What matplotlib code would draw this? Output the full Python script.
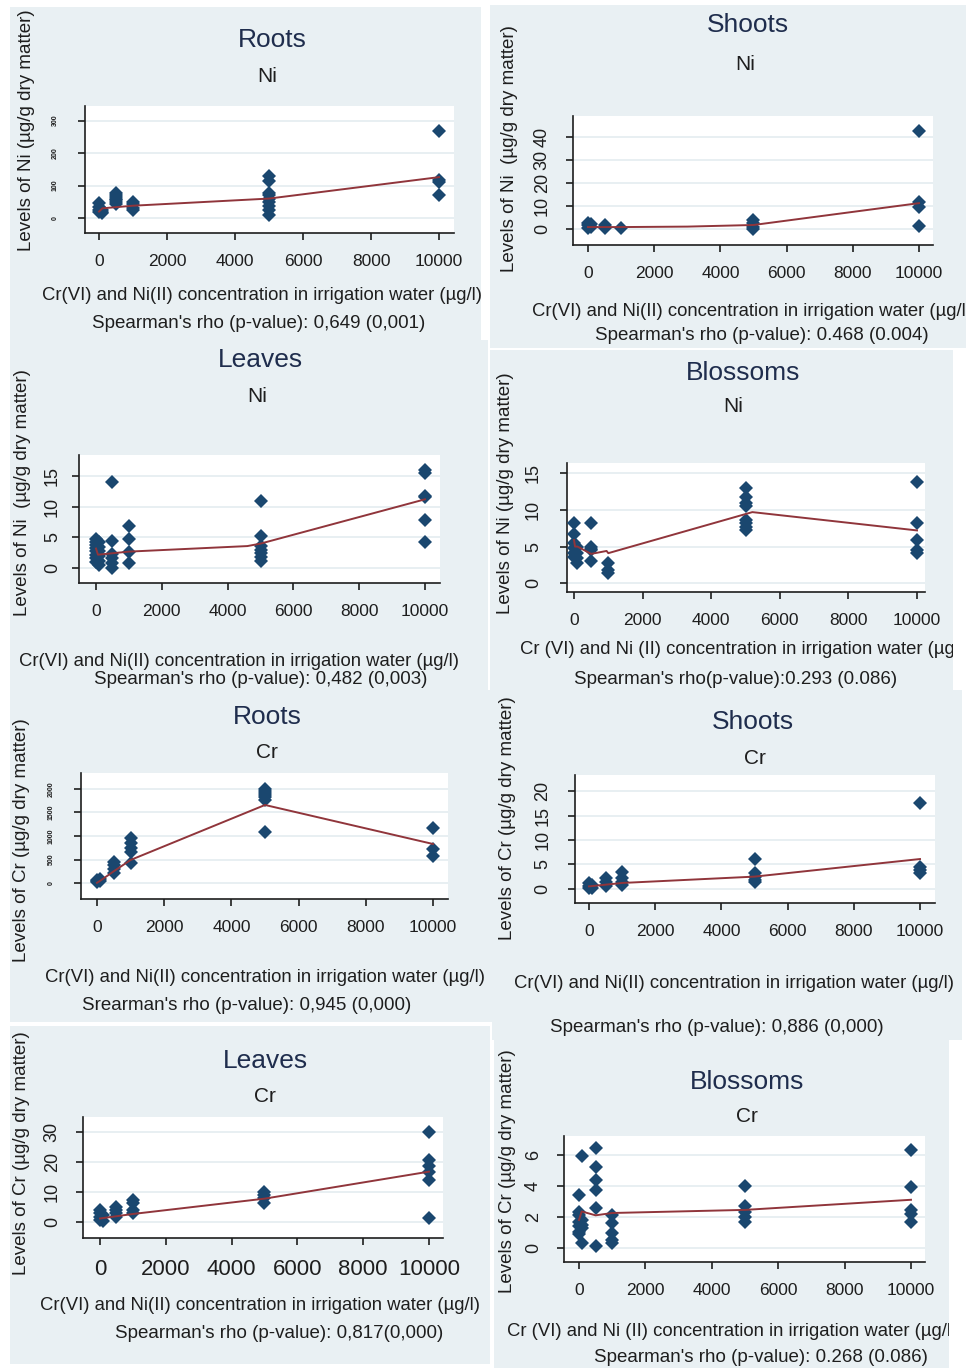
import matplotlib
matplotlib.use("Agg")
import matplotlib.pyplot as plt
from matplotlib.patches import Rectangle

plt.rcParams['font.family'] = ['Liberation Sans', 'DejaVu Sans']

W, H = 968, 1368

# ---- data -----------------------------------------------------------------
x_ticks = [0, 2000, 4000, 6000, 8000, 10000]

# Roots, Ni
roots_ni_x = [0, 0, 0, 0, 100, 100, 100, 500, 500, 500, 500, 500, 500, 500,
              1000, 1000, 1000, 1000] + [5000] * 9 + [10000] * 4
roots_ni_y = [45, 35, 25, 20, 25, 18, 15, 78, 72, 66, 60, 55, 50, 44,
              50, 42, 32, 25, 130, 115, 78, 70, 60, 50, 38, 25, 10,
              268, 118, 110, 72]
roots_ni_fit_x = [0, 100, 1000, 5000, 10000]
roots_ni_fit_y = [20, 30, 38, 60, 126]

# Shoots, Ni
shoots_ni_x = [0, 0, 0, 100, 100, 500, 500, 1000] + [5000] * 4 + [10000] * 4
shoots_ni_y = [0.5, 1.5, 2.5, 1, 2, 0.5, 1.5, 0.5, 4, 2.5, 1, 0,
               42.5, 11.5, 9.5, 1.3]
shoots_ni_fit_x = [0, 100, 500, 1000, 3000, 5000, 10000]
shoots_ni_fit_y = [0.8, 0.8, 0.8, 0.8, 1.0, 1.7, 11.2]

# Leaves, Ni
leaves_ni_x = [0] * 8 + [100] * 6 + [500] * 6 + [1000] * 4 + [5000] * 7 + [10000] * 6
leaves_ni_y = [4.8, 4.3, 3.8, 3.3, 2.8, 2.2, 1.6, 1.0,
               4.2, 3.5, 2.8, 2.0, 1.2, 0.6,
               14, 4.5, 2.3, 1.6, 0.8, 0,
               6.8, 4.8, 2.6, 0.9,
               11, 5.2, 3.6, 3.0, 2.4, 1.8, 1.2,
               16, 15.4, 11.8, 11.5, 7.8, 4.3]
leaves_ni_fit_x = [0, 60, 1000, 4600, 5000, 10000]
leaves_ni_fit_y = [3.2, 2.2, 2.7, 3.6, 4.0, 11.2]

# Blossoms, Ni
blossoms_ni_x = [0] * 6 + [100] * 4 + [500] * 5 + [1000] * 3 + [5000] * 8 + [10000] * 5
blossoms_ni_y = [8.2, 6.7, 5.5, 4.8, 4.1, 3.6,
                 5.0, 4.1, 3.4, 2.7,
                 8.2, 5.0, 4.7, 4.5, 3.0,
                 2.7, 1.8, 1.4,
                 13.0, 11.8, 10.9, 10.6, 8.6, 8.2, 7.7, 7.2,
                 13.8, 8.2, 5.9, 4.5, 4.1]
blossoms_ni_fit_x = [0, 30, 100, 500, 950, 1000, 5200, 10000]
blossoms_ni_fit_y = [5.9, 5.0, 5.0, 4.0, 4.4, 4.1, 9.7, 7.2]

# Roots, Cr
roots_cr_x = [0, 0, 0, 100, 100] + [500] * 4 + [1000] * 5 + [5000] * 7 + [10000] * 3
roots_cr_y = [60, 40, 25, 80, 45, 450, 380, 300, 220,
              950, 850, 750, 650, 420,
              2000, 1960, 1920, 1870, 1820, 1760, 1090,
              1170, 720, 580]
roots_cr_fit_x = [0, 100, 500, 1000, 5000, 10000]
roots_cr_fit_y = [5, 50, 250, 490, 1660, 830]

# Shoots, Cr
shoots_cr_x = [0, 0, 0, 100, 100, 500, 500, 500] + [1000] * 4 + [5000] * 5 + [10000] * 4
shoots_cr_y = [1.1, 0.5, 0.1, 0.8, 0.1, 2.2, 1.5, 0.5,
               3.5, 2.2, 1.5, 0.8,
               6.1, 3.2, 2.5, 1.8, 1.3,
               17.6, 4.5, 3.9, 3.2]
shoots_cr_fit_x = [0, 1000, 5000, 10000]
shoots_cr_fit_y = [0.5, 1.2, 2.5, 6.1]

# Leaves, Cr
leaves_cr_x = [0] * 4 + [100] * 2 + [500] * 4 + [1000] * 4 + [5000] * 4 + [10000] * 6
leaves_cr_y = [4.0, 2.9, 1.8, 0.7, 2.4, 0.5,
               5.1, 4.0, 2.9, 1.8,
               7.3, 6.2, 4.0, 3.1,
               10.1, 9.0, 7.9, 6.2,
               30.1, 20.7, 18.7, 16.8, 14.0, 1.4]
leaves_cr_fit_x = [0, 1000, 5000, 10000]
leaves_cr_fit_y = [1.2, 2.7, 7.8, 16.8]

# Blossoms, Cr
blossoms_cr_x = [0] * 7 + [100] * 5 + [500] * 6 + [1000] * 5 + [5000] * 5 + [10000] * 5
blossoms_cr_y = [3.4, 2.3, 2.1, 1.7, 1.4, 1.05, 0.9,
                 5.9, 1.8, 1.5, 1.3, 0.3,
                 6.4, 5.2, 4.4, 3.7, 2.6, 0.1,
                 2.1, 1.6, 0.95, 0.5, 0.3,
                 4.0, 2.7, 2.3, 2.0, 1.7,
                 6.3, 3.9, 2.45, 2.2, 1.7]
blossoms_cr_fit_x = [0, 80, 500, 1000, 5000, 10000]
blossoms_cr_fit_y = [1.8, 2.35, 2.1, 2.25, 2.45, 3.1]

titles = ['Roots', 'Shoots', 'Leaves', 'Blossoms', 'Roots', 'Shoots', 'Leaves', 'Blossoms']
metals = ['Ni', 'Ni', 'Ni', 'Ni', 'Cr', 'Cr', 'Cr', 'Cr']
y_labels = ['Levels of Ni (µg/g dry matter)', 'Levels of Ni  (µg/g dry matter)',
            'Levels of Ni  (µg/g dry matter)', 'Levels of Ni (µg/g dry matter)',
            'Levels of Cr (µg/g dry matter)', 'Levels of Cr (µg/g dry matter)',
            'Levels of Cr (µg/g dry matter)', 'Levels of Cr (µg/g dry matter)']
x_labels = ['Cr(VI) and Ni(II) concentration in irrigation water (µg/l)',
            'Cr(VI) and Ni(II) concentration in irrigation water (µg/l)',
            'Cr(VI) and Ni(II) concentration in irrigation water (µg/l)',
            'Cr (VI) and Ni (II) concentration in irrigation water (µg/l)',
            'Cr(VI) and Ni(II) concentration in irrigation water (µg/l)',
            'Cr(VI) and Ni(II) concentration in irrigation water (µg/l)',
            'Cr(VI) and Ni(II) concentration in irrigation water (µg/l)',
            'Cr (VI) and Ni (II) concentration in irrigation water (µg/l)']
stats = ["Spearman's rho (p-value): 0,649 (0,001)",
         "Spearman's rho (p-value): 0.468 (0.004)",
         "Spearman's rho (p-value): 0,482 (0,003)",
         "Spearman's rho(p-value):0.293 (0.086)",
         "Srearman's rho (p-value): 0,945 (0,000)",
         "Spearman's rho (p-value): 0,886 (0,000)",
         "Spearman's rho (p-value): 0,817(0,000)",
         "Spearman's rho (p-value): 0.268 (0.086)"]
y_ticks = [[0, 100, 200, 300], [0, 10, 20, 30, 40], [0, 5, 10, 15], [0, 5, 10, 15],
           [0, 500, 1000, 1500, 2000], [0, 5, 10, 15, 20], [0, 10, 20, 30], [0, 2, 4, 6]]

series = [(roots_ni_x, roots_ni_y, roots_ni_fit_x, roots_ni_fit_y),
          (shoots_ni_x, shoots_ni_y, shoots_ni_fit_x, shoots_ni_fit_y),
          (leaves_ni_x, leaves_ni_y, leaves_ni_fit_x, leaves_ni_fit_y),
          (blossoms_ni_x, blossoms_ni_y, blossoms_ni_fit_x, blossoms_ni_fit_y),
          (roots_cr_x, roots_cr_y, roots_cr_fit_x, roots_cr_fit_y),
          (shoots_cr_x, shoots_cr_y, shoots_cr_fit_x, shoots_cr_fit_y),
          (leaves_cr_x, leaves_cr_y, leaves_cr_fit_x, leaves_cr_fit_y),
          (blossoms_cr_x, blossoms_cr_y, blossoms_cr_fit_x, blossoms_cr_fit_y)]

# ---- layout (pixels, origin top-left) -------------------------------------
# panel rect, axes box, xlim, ylim
layout = [
    dict(rect=(10, 7, 481, 340), box=(85, 106, 454, 233), xlim=(-412, 10441), ylim=(-46, 345),
         title=(272, 40), sub=(267, 76), ylab=(27, 130), xlab=(42, 296), stat=(259, 323),
         ypad=14, tiny=True, xsize=12.5),
    dict(rect=(490, 5, 966, 348), box=(573, 116, 933, 245), xlim=(-453, 10423), ylim=(-7, 49.1),
         title=(748, 25), sub=(745, 64), ylab=(510, 149), xlab=(532, 312), stat=(762, 335),
         ypad=11, tiny=False, xsize=12.5),
    dict(rect=(10, 340, 488, 690), box=(79, 455, 440, 583), xlim=(-517, 10456), ylim=(-2.4, 18.4),
         title=(260, 360), sub=(257, 397), ylab=(23, 493), xlab=(19, 662), stat=(261, 680),
         ypad=8, tiny=False, xsize=12.5),
    dict(rect=(490, 350, 953, 690), box=(567, 463, 925, 592), xlim=(-204, 10233), ylim=(-1.2, 16.4),
         title=(743, 373), sub=(733, 407), ylab=(505, 493), xlab=(520, 650), stat=(736, 680),
         ypad=13, tiny=False, xsize=12.5),
    dict(rect=(10, 690, 492, 1022), box=(81, 773, 448, 899), xlim=(-476, 10446), ylim=(-340, 2340),
         title=(267, 717), sub=(267, 753), ylab=(22, 840), xlab=(45, 977), stat=(247, 1005),
         ypad=14, tiny=True, xsize=12.5),
    dict(rect=(492, 690, 962, 1040), box=(575, 775, 935, 903), xlim=(-423, 10453), ylim=(-2.9, 23.3),
         title=(753, 722), sub=(755, 758), ylab=(507, 818), xlab=(514, 983), stat=(717, 1027),
         ypad=12, tiny=False, xsize=12.5),
    dict(rect=(10, 1026, 490, 1364), box=(83, 1117, 443, 1238), xlim=(-517, 10426), ylim=(-5.3, 35),
         title=(265, 1061), sub=(265, 1097), ylab=(22, 1153), xlab=(40, 1305), stat=(279, 1333),
         ypad=11, tiny=False, xsize=16),
    dict(rect=(494, 1040, 949, 1368), box=(564, 1136, 925, 1262), xlim=(-452, 10422), ylim=(-0.9, 7.2),
         title=(747, 1082), sub=(747, 1117), ylab=(508, 1171), xlab=(507, 1332), stat=(761, 1357),
         ypad=11, tiny=False, xsize=12.5),
]

BG = '#e9f0f3'
GRID = '#e6eef1'
NAVY = '#1a476f'
RED = '#90353b'
INK = '#1e1e1e'


def fx(px):
    return px / W


def fy(py):
    return 1 - py / H


fig = plt.figure(figsize=(W / 100, H / 100), dpi=100)
fig.patch.set_facecolor('white')

for i, lay in enumerate(layout):
    x0, y0, x1, y1 = lay['rect']
    panel = Rectangle((fx(x0), fy(y1)), (x1 - x0) / W, (y1 - y0) / H,
                      transform=fig.transFigure, facecolor=BG, edgecolor='none', zorder=0)
    fig.add_artist(panel)

    bx0, by0, bx1, by1 = lay['box']
    ax = fig.add_axes([fx(bx0), fy(by1), (bx1 - bx0) / W, (by1 - by0) / H])
    ax.set_facecolor('white')
    xs, ys, fxs, fys = series[i]

    for yt in y_ticks[i]:
        ax.axhline(yt, color=GRID, lw=1.3, zorder=0)
    ax.plot(xs, ys, 'D', color=NAVY, markersize=7, markeredgewidth=0, zorder=3)
    ax.plot(fxs, fys, '-', color=RED, lw=1.4, zorder=4)

    ax.set_xlim(*lay['xlim'])
    ax.set_ylim(*lay['ylim'])
    ax.set_xticks(x_ticks)
    ax.set_yticks(y_ticks[i])
    for s in ['top', 'right']:
        ax.spines[s].set_visible(False)
    for s in ['left', 'bottom']:
        ax.spines[s].set_color(INK)
        ax.spines[s].set_linewidth(1.2)
    ax.tick_params(axis='x', direction='out', length=5, width=1.2, color=INK,
                   labelsize=lay['xsize'], labelcolor=INK, pad=10)
    if lay['tiny']:
        ax.tick_params(axis='y', direction='out', length=5, width=1.2, color=INK,
                       labelsize=5, labelcolor=INK, pad=lay['ypad'])
        for lab in ax.get_yticklabels():
            lab.set_fontweight('bold')
    else:
        ax.tick_params(axis='y', direction='out', length=5, width=1.2, color=INK,
                       labelsize=13, labelcolor=INK, pad=lay['ypad'])
    for lab in ax.get_yticklabels():
        lab.set_rotation(90)
        lab.set_va('center')

    tx, ty = lay['title']
    fig.text(fx(tx), fy(ty), titles[i], ha='center', va='center', fontsize=19, color='#1f2d4d')
    sx, sy = lay['sub']
    fig.text(fx(sx), fy(sy), metals[i], ha='center', va='center', fontsize=15, color=INK)
    lx, ly = lay['ylab']
    fig.text(fx(lx), fy(ly), y_labels[i], ha='center', va='center', rotation=90,
             fontsize=13.5, color=INK)
    xx, xy = lay['xlab']
    t = fig.text(fx(xx), fy(xy), x_labels[i], ha='left', va='center', fontsize=13.3, color=INK)
    t.set_clip_path(panel)
    px, py = lay['stat']
    t = fig.text(fx(px), fy(py), stats[i], ha='center', va='center', fontsize=13.5, color=INK)
    t.set_clip_path(panel)

fig.savefig('out.png', dpi=100, facecolor='white')
